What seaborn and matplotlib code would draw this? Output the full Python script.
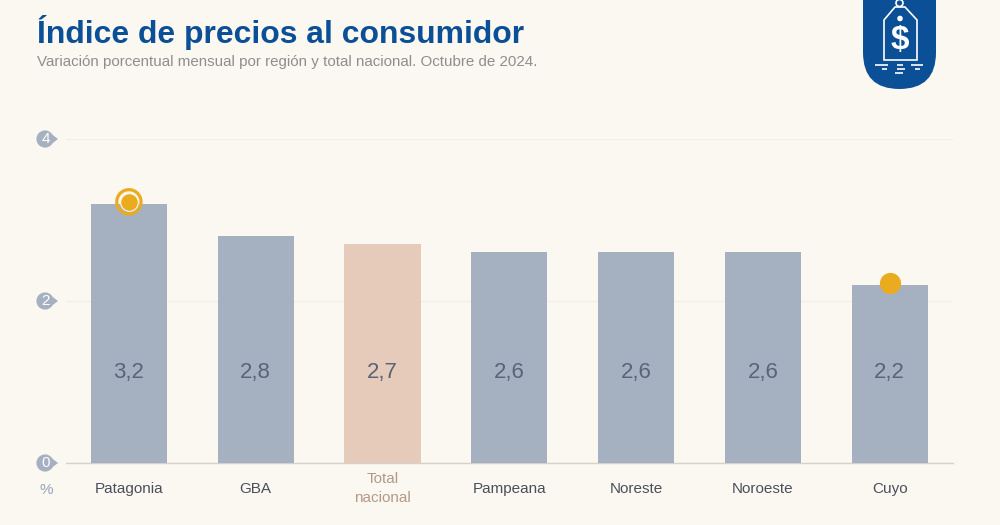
"""Indice de precios al consumidor por region, octubre 2024."""

import matplotlib

matplotlib.use("Agg")

import matplotlib.pyplot as plt
import pandas as pd
import seaborn as sns
from matplotlib.patches import Circle, FancyBboxPatch, PathPatch, Polygon
from matplotlib.path import Path
from matplotlib.transforms import ScaledTranslation

REGIONS = ["Patagonia", "GBA", "Total\nnacional", "Pampeana", "Noreste", "Noroeste", "Cuyo"]
VALUES = [3.2, 2.8, 2.7, 2.6, 2.6, 2.6, 2.2]
Y_TICKS = [0, 2, 4]

BACKGROUND = "#FBF8F2"
BAR_COLOR = "#A5B1C1"
TOTAL_COLOR = "#E6CABA"
BLUE = "#0B4F96"
ORANGE = "#EBAB1E"

sns.set_theme(style="white")
plt.rcParams["font.family"] = ["Liberation Sans", "DejaVu Sans"]

df = pd.DataFrame({"region": REGIONS, "value": VALUES})
palette = {r: (TOTAL_COLOR if r.startswith("Total") else BAR_COLOR) for r in REGIONS}

fig = plt.figure(figsize=(10, 5.25), dpi=100, facecolor=BACKGROUND)
ax = fig.add_axes([0.0655, 1 - 463 / 525, 0.8875, 324 / 525], facecolor="none")

sns.barplot(data=df, x="region", y="value", hue="region", palette=palette, legend=False,
            width=0.6, saturation=1, linewidth=0, ax=ax, zorder=2)
ax.set_xlim(-0.5, 6.5)
ax.set_ylim(0, 4)
ax.set_xlabel("")
ax.set_ylabel("")
ax.set_yticks(Y_TICKS)
ax.set_yticklabels([])
ax.grid(axis="y", color="#F3EEE6", linewidth=1, zorder=0)
ax.tick_params(axis="both", length=0)
ax.tick_params(axis="x", pad=18.5, labelsize=11)
for side in ["top", "right", "left"]:
    ax.spines[side].set_visible(False)
ax.spines["bottom"].set_color("#D6D2CB")
ax.spines["bottom"].set_linewidth(1)
ax.spines["bottom"].set_zorder(1)

for label in ax.get_xticklabels():
    total = label.get_text().startswith("Total")
    label.set_color("#B39A85" if total else "#4A4F5C")
    label.set_linespacing(1.45)
    label.set_verticalalignment("center")

for i, value in enumerate(VALUES):
    ax.text(i, 0.278, f"{value:.1f}".replace(".", ","), transform=ax.get_xaxis_transform(),
            ha="center", va="center", fontsize=16, color="#5A6478", zorder=3)

# marcas de maximo y minimo, 2 px por encima de la barra
lift = ax.transData + ScaledTranslation(0, 2 / 100, fig.dpi_scale_trans)
ax.scatter([0], [VALUES[0]], s=305, facecolor="none", edgecolor=ORANGE, linewidth=2.3,
           zorder=4, clip_on=False, transform=lift)
ax.scatter([0], [VALUES[0]], s=162, color=ORANGE, edgecolor=BACKGROUND, linewidth=0.8,
           zorder=5, clip_on=False, transform=lift)
ax.scatter([6], [VALUES[6]], s=233, color=ORANGE, linewidth=0, zorder=5, clip_on=False, transform=lift)

# capa en pixeles para titulo, insignias y logo
over = fig.add_axes([0, 0, 1, 1], facecolor="none")
over.set_xlim(0, 1000)
over.set_ylim(525, 0)
over.axis("off")

over.text(37, 32.5, "Índice de precios al consumidor", fontsize=22.95, fontweight="bold",
          color=BLUE, ha="left", va="center")
over.text(37, 62, "Variación porcentual mensual por región y total nacional. Octubre de 2024.",
          fontsize=10.88, color="#8E8E8E", ha="left", va="center")
over.text(46.5, 490, "%", fontsize=11, color="#97A3B5", ha="center", va="center")

for tick, py in zip(Y_TICKS, [463, 301, 139]):
    over.add_patch(Circle((45, py), 8.6, color=BAR_COLOR, lw=0))
    over.add_patch(Polygon([(47, py - 8.4), (58, py), (47, py + 8.4)], color=BAR_COLOR, lw=0))
    over.text(45.5, py, str(tick), fontsize=11, color="white", ha="center", va="center")

# logo
over.add_patch(FancyBboxPatch((863, -60), 73, 149, boxstyle="round,pad=0,rounding_size=36.5",
                              facecolor=BLUE, edgecolor="none", clip_on=True))
over.add_patch(Polygon([(884, 60), (884, 20), (895, 7), (905, 7), (917, 20), (917, 60)],
                       closed=True, fill=False, edgecolor="white", lw=1.2))
over.add_patch(Circle((899.5, 3), 3.5, fill=False, edgecolor="white", lw=1.2))
over.add_patch(Circle((900, 18.5), 2.8, color="white", lw=0))
over.text(900, 41, "$", fontsize=24, fontweight="bold", color="white", ha="center", va="center")
LOGO_LINES = [(875, 888, 65), (897, 903, 65), (911, 923, 65), (882, 887, 69),
              (897, 905, 69), (915, 920, 69), (895, 903, 73)]
for x0, x1, y in LOGO_LINES:
    over.add_patch(PathPatch(Path([(x0, y), (x1, y)]), edgecolor="white", lw=1.2))

fig.savefig("out.png", dpi=100, facecolor=BACKGROUND)
plt.close(fig)
